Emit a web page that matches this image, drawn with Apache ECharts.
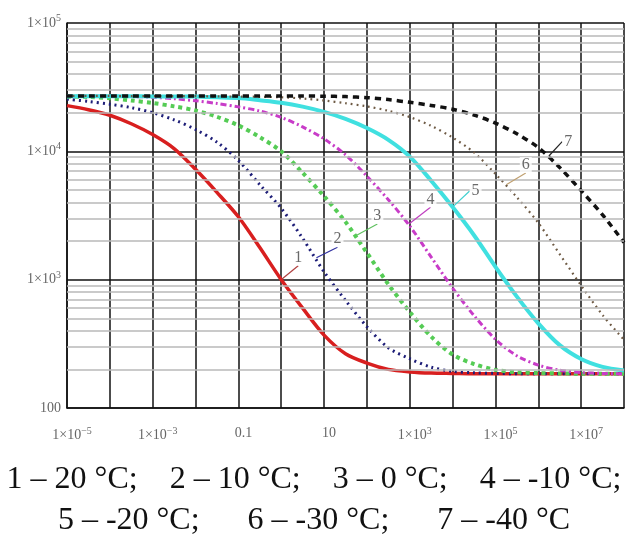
<!DOCTYPE html>
<html>
<head>
<meta charset="utf-8">
<script src="https://cdn.jsdelivr.net/npm/echarts@6/dist/echarts.min.js"></script>
<style>
  html, body { margin: 0; padding: 0; background: #fff; }
  #chart { width: 628px; height: 542px; }
</style>
</head>
<body>
<div id="chart"></div>
<script>
// время, шаг полдекады от 1e-5 до 1e8
const timeValues = [1e-5, 3.16e-5, 1e-4, 3.16e-4, 1e-3, 3.16e-3, 0.01, 0.0316, 0.1, 0.316,
  1, 3.16, 10, 31.6, 100, 316, 1e3, 3.16e3, 1e4, 3.16e4, 1e5, 3.16e5, 1e6, 3.16e6, 1e7, 3.16e7, 1e8];

// значения кривых
const curve1 = [22700, 21100, 19100, 16400, 13500, 10500, 7240, 4790, 3090, 1780, 1000, 600, 370, 265, 224,
  200, 191, 187, 186, 185, 185, 185, 185, 185, 185, 185, 185];
const curve2 = [25500, 24500, 23300, 21900, 20000, 17600, 14800, 11800, 8500, 5500, 3600, 2100, 1150, 690, 430,
  295, 242, 208, 193, 188, 186, 185, 185, 185, 185, 185, 185];
const curve3 = [26700, 26500, 25900, 24900, 23800, 22400, 20800, 18600, 15900, 12900, 10000, 6800, 4470, 2820, 1620,
  920, 560, 360, 261, 220, 198, 190, 187, 186, 185, 185, 185];
const curve4 = [26900, 26900, 26800, 26700, 26400, 25700, 24800, 23600, 22200, 20600, 18400, 15500, 12500, 9400, 6400,
  4200, 2620, 1500, 860, 525, 343, 255, 216, 197, 189, 186, 185];
const curve5 = [26900, 26900, 26900, 26900, 26800, 26800, 26700, 26400, 26000, 25000, 23900, 22300, 20300, 17900, 15200,
  12300, 9100, 5900, 3680, 2220, 1260, 738, 457, 309, 241, 209, 196];
const curve6 = [27000, 27000, 27000, 26900, 26900, 26900, 26900, 26800, 26700, 26600, 26400, 25800, 24900, 23700, 22400,
  20700, 18500, 15800, 12800, 9800, 6670, 4390, 2770, 1580, 900, 530, 340];
const curve7 = [27000, 27000, 27000, 27000, 27000, 27000, 27000, 27000, 27000, 27000, 27000, 27000, 26900, 26700, 26200,
  25300, 24100, 22800, 21300, 19200, 16600, 13700, 10700, 7480, 4940, 3200, 1950];

const curveNames = ['1', '2', '3', '4', '5', '6', '7'];
const curveTemps = ['20', '10', '0', '-10', '-20', '-30', '-40'];
// точки, к которым подведены выноски с номерами
const labelAnchors = [[1, 1000], [6.31, 1470], [53.7, 2190], [933, 2700], [1e4, 3680], [1.74e5, 5460], [1.7e6, 9080]];
// вспомогательные горизонтальные линии сетки
const minorLevels = [200, 300, 400, 500, 600, 700, 800, 900,
  2000, 3000, 4000, 5000, 6000, 7000, 8000, 9000,
  20000, 30000, 40000, 50000, 60000, 70000, 80000, 90000];

const curves = [curve1, curve2, curve3, curve4, curve5, curve6, curve7];

const styles = [
  { color: '#d81f1f', width: 3.5, type: 'solid' },
  { color: '#1e1e78', width: 3, type: [2, 4] },
  { color: '#55cc55', width: 4, type: [4, 4] },
  { color: '#c83cc8', width: 3, type: [6, 3, 2, 3] },
  { color: '#40e0e0', width: 4, type: 'solid' },
  { color: '#6e5a44', width: 2.2, type: [1.8, 4] },
  { color: '#111111', width: 3.5, type: [6, 5] }
];
const leaderColors = ['#b04040', '#3030a0', '#60c060', '#c040c0', '#40d0d0', '#c0a070', '#222'];
const labelOffsets = [[17, -22], [22, -19], [22, -20], [22, -25], [23, -16], [20, -20], [20, -15]];

const serif = 'Liberation Serif';

function supLabel(exp) {
  const e = exp < 0 ? '\u2212' + (-exp) : String(exp);
  return '{b|1\u00d710}{s|' + e + '}';
}
const labelRich = {
  b: { fontFamily: serif, fontSize: 14, color: '#666' },
  s: { fontFamily: serif, fontSize: 10, color: '#666', padding: [0, 0, 9, 0] },
  p: { fontFamily: serif, fontSize: 14, color: '#666' }
};

const chart = echarts.init(document.getElementById('chart'));

const series = [];
// линии вспомогательной сетки
series.push({
  type: 'line', data: [], z: 1, silent: true,
  markLine: {
    symbol: 'none', silent: true, animation: false,
    label: { show: false },
    lineStyle: { color: '#b8b8b8', width: 1.5, type: 'solid' },
    data: minorLevels.map(v => ({ yAxis: v }))
  }
});
curves.forEach((c, i) => {
  series.push({
    name: curveNames[i], type: 'line', z: 3,
    data: c.map((v, k) => [timeValues[k], v]),
    showSymbol: false, smooth: 0.3,
    lineStyle: { color: styles[i].color, width: styles[i].width, type: styles[i].type, cap: 'butt' },
    animation: false
  });
});
labelAnchors.forEach((p, i) => {
  series.push({
    type: 'scatter', z: 5, data: [p], symbolSize: 2,
    itemStyle: { color: 'rgba(0,0,0,0)' },
    label: {
      show: true, position: 'inside', formatter: curveNames[i],
      fontFamily: serif, fontSize: 16, color: '#444',
      backgroundColor: '#fff', padding: [0, 2]
    },
    labelLayout: { dx: labelOffsets[i][0], dy: labelOffsets[i][1] },
    labelLine: { show: true, lineStyle: { color: leaderColors[i], width: 1.2 } },
    animation: false
  });
});

const legendItems = curveNames.map((n, i) => n + ' \u2013 ' + curveTemps[i] + ' \u00b0C');
const legendLine1 = legendItems.slice(0, 4).join(';    ') + ';';
const legendLine2 = legendItems.slice(4).join(';      ');

chart.setOption({
  backgroundColor: '#fff',
  animation: false,
  grid: { left: 67, right: 4, top: 23, bottom: 134 },
  xAxis: {
    type: 'log', logBase: 10, min: 1e-5, max: 1e8, interval: 1,
    axisLine: { show: true, lineStyle: { color: '#111', width: 1.5 } },
    axisTick: { show: false },
    splitLine: { show: true, lineStyle: { color: '#111', width: 1.5 } },
    axisLabel: {
      margin: 18, padding: [0, 0, 0, 10],
      formatter: v => {
        const e = Math.round(Math.log10(v));
        if (Math.abs(e) % 2 !== 1) return '';
        if (e === -1) return '{p|0.1}';
        if (e === 1) return '{p|10}';
        return supLabel(e);
      },
      rich: labelRich
    }
  },
  yAxis: {
    type: 'log', logBase: 10, min: 100, max: 1e5, interval: 1,
    axisLine: { show: true, lineStyle: { color: '#111', width: 1.5 } },
    axisTick: { show: false },
    splitLine: { show: true, lineStyle: { color: '#111', width: 1.5 } },
    axisLabel: {
      margin: 6,
      formatter: v => {
        const e = Math.round(Math.log10(v));
        if (e === 2) return '{p|100}';
        return supLabel(e);
      },
      rich: labelRich
    }
  },
  graphic: [
    { type: 'text', left: 'center', top: 464, style: { text: legendLine1, font: '32px "Liberation Serif"', fill: '#111' } },
    { type: 'text', left: 'center', top: 505, style: { text: legendLine2, font: '32px "Liberation Serif"', fill: '#111' } }
  ],
  series: series
});
</script>
</body>
</html>
